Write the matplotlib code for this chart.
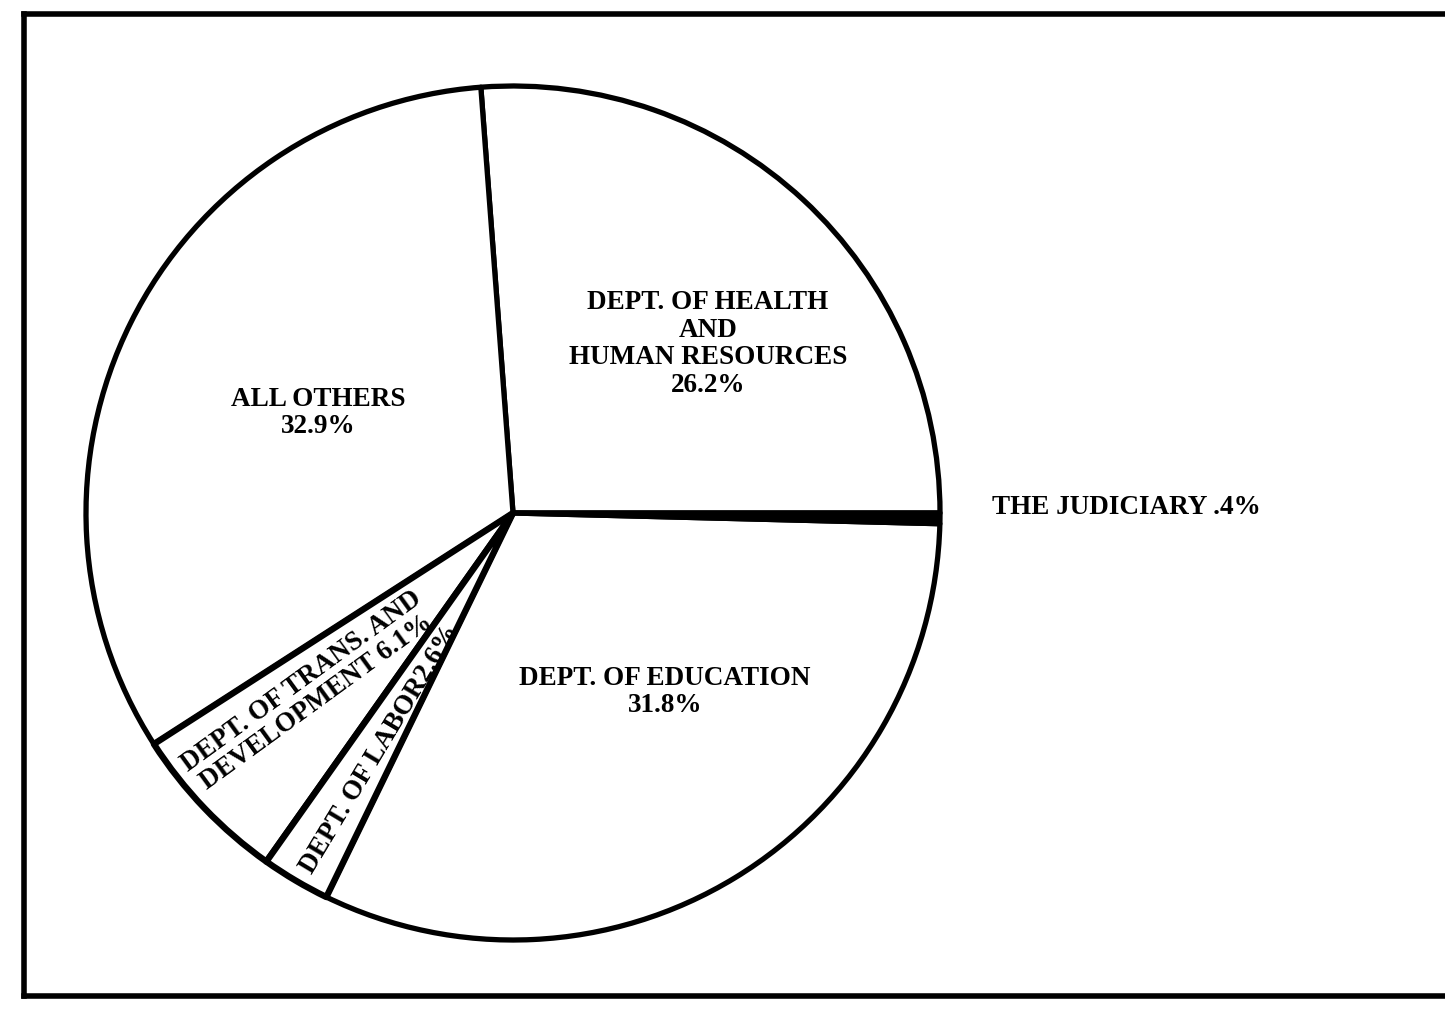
import matplotlib
matplotlib.use("Agg")
import matplotlib.pyplot as plt
from matplotlib.lines import Line2D

# shares of the budget, counterclockwise from 3 o'clock
departments = ["DEPT. OF HEALTH\nAND\nHUMAN RESOURCES", "ALL OTHERS",
               "DEPT. OF TRANS. AND\nDEVELOPMENT", "DEPT. OF LABOR",
               "DEPT. OF EDUCATION", "THE JUDICIARY"]
shares = [26.2, 32.9, 6.1, 2.6, 31.8, 0.4]
fills = ["white", "white", "white", "white", "white", "black"]

W, H = 1445, 1009
fig = plt.figure(figsize=(W / 100, H / 100), dpi=100)
ax = fig.add_axes([0, 0, 1, 1])

cx, cy, r = 513, H - 513, 427
wedges, _ = ax.pie(shares, startangle=0, counterclock=True, center=(cx, cy),
                   radius=r, colors=fills, frame=True,
                   wedgeprops=dict(edgecolor="black", linewidth=3.8,
                                   joinstyle="round"))
# the two small slices have heavier borders in the original
for w in wedges[2:4]:
    w.set_linewidth(4.6)
    w.set_zorder(3)
ax.set_xlim(0, W)
ax.set_ylim(0, H)
ax.set_aspect("equal")
ax.axis("off")

font = dict(family="Liberation Serif", weight="bold", fontsize=19.5, color="black")

def px(x, y):
    return x, H - y

ax.text(*px(708, 344), departments[0] + "\n%.1f%%" % shares[0],
        ha="center", va="center", linespacing=1.13, **font)
ax.text(*px(318, 413), departments[1] + "\n%.1f%%" % shares[1],
        ha="center", va="center", linespacing=1.13, **font)
ax.text(*px(665, 692), departments[4] + "\n%.1f%%" % shares[4],
        ha="center", va="center", linespacing=1.13, **font)
ax.text(*px(992, 507), departments[5] + " .%d%%" % round(shares[5] * 10),
        ha="left", va="center", **font)
ax.text(*px(309, 692), departments[2] + " %.1f%%" % shares[2],
        ha="center", va="center", rotation=36, rotation_mode="anchor",
        linespacing=1.0, zorder=4, **font)
ax.text(*px(380, 749), departments[3] + "%.1f%%" % shares[3],
        ha="center", va="center", rotation=59, rotation_mode="anchor",
        zorder=4, **font)

# hand-drawn frame (no right edge)
lw = 4
fig.add_artist(Line2D([24 / W, 1.0], [1 - 14 / H, 1 - 14 / H], color="black", lw=lw))
fig.add_artist(Line2D([24 / W, 24 / W], [1 - 14 / H, 1 - 996 / H], color="black", lw=lw))
fig.add_artist(Line2D([24 / W, 1.0], [1 - 996 / H, 1 - 996 / H], color="black", lw=lw))

fig.savefig("out.png", dpi=100, facecolor="white")
